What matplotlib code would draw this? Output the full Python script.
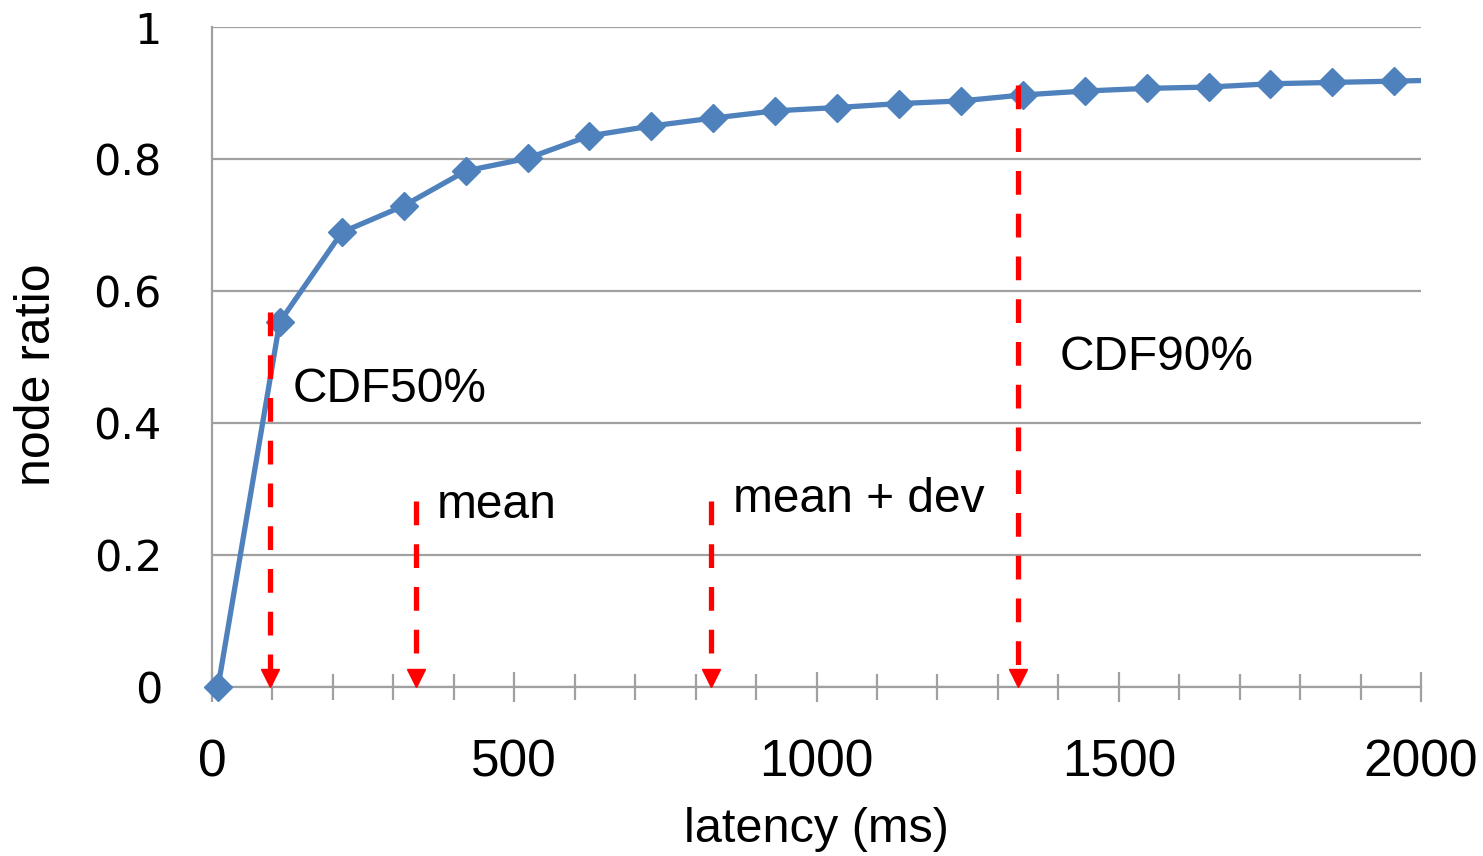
import numpy as np
import matplotlib
matplotlib.use("Agg")
import matplotlib.pyplot as plt
from matplotlib.ticker import MultipleLocator

# CDF of latency
latency = [10, 112, 215, 317, 420, 522, 624, 727, 829, 932, 1034, 1137,
           1239, 1341, 1444, 1546, 1649, 1751, 1853, 1956, 2058]
node_ratio = [0.0, 0.553, 0.689, 0.729, 0.782, 0.801, 0.835, 0.850, 0.862,
              0.873, 0.878, 0.884, 0.888, 0.897, 0.903, 0.907, 0.909, 0.914,
              0.916, 0.918, 0.920]

# red dashed markers: x position, top of the dashed line, label
mark_x = [96, 337, 825, 1333]
mark_top = [0.568, 0.282, 0.282, 0.912]
mark_labels = ["CDF50%", "mean", "mean + dev", "CDF90%"]
label_x = [134, 372, 862, 1403]
label_y = [0.432, 0.256, 0.265, 0.480]

W, H = 1483, 856
fig = plt.figure(figsize=(W / 100, H / 100), dpi=100)
ax = fig.add_axes([212 / W, (H - 687) / H, 1209 / W, 660 / H])

grid_c = "#a0a0a0"
ax.set_xlim(0, 2000)
ax.set_ylim(0, 1)
ax.set_yticks(np.arange(0, 1.01, 0.2))
ax.set_yticklabels(["0", "0.2", "0.4", "0.6", "0.8", "1"])
ax.xaxis.set_major_locator(MultipleLocator(500))
ax.xaxis.set_minor_locator(MultipleLocator(100))
ax.yaxis.grid(True, color=grid_c, lw=1.6)
ax.set_axisbelow(True)
for s in ["top", "right"]:
    ax.spines[s].set_visible(False)
for s in ["left", "bottom"]:
    ax.spines[s].set_color(grid_c)
    ax.spines[s].set_linewidth(1.6)

ax.tick_params(axis="x", which="both", direction="inout", color=grid_c, width=1.6)
ax.tick_params(axis="x", which="major", length=22, pad=26)
ax.tick_params(axis="x", which="minor", length=19)
ax.tick_params(axis="y", length=0, pad=36)

for lab in ax.get_xticklabels():
    lab.set_fontfamily("Liberation Sans")
    lab.set_fontsize(37)
for lab in ax.get_yticklabels():
    lab.set_fontfamily("DejaVu Sans")
    lab.set_fontsize(31)

blue = "#4f81bd"
ax.plot(latency, node_ratio, color=blue, lw=3.8, zorder=3)
# markers inside the x range are drawn unclipped so the one at 0 shows whole
in_x = [x for x in latency if x <= 2000]
in_y = [y for x, y in zip(latency, node_ratio) if x <= 2000]
ax.plot(in_x, in_y, ls="none", color=blue, marker="D", ms=14, zorder=3,
        clip_on=False)

for x, top in zip(mark_x, mark_top):
    # draw from the top down so the dash pattern starts at the top
    ax.plot([x, x], [top, 0.026], color="red", lw=3.8,
            ls=(0, (4.5, 3.6)), zorder=4)
    ax.plot(x, 0.014, marker="v", color="red", ms=13, zorder=4, clip_on=False)

for t, x, y in zip(mark_labels, label_x, label_y):
    ax.text(x, y, t, fontsize=34.5, family="Liberation Sans", va="baseline")

ax.set_xlabel("latency (ms)", fontsize=35, family="Liberation Sans")
ax.xaxis.set_label_coords(0.4996, -0.182)
ax.set_ylabel("node ratio", fontsize=36, family="Liberation Sans")
ax.yaxis.set_label_coords(-0.126, 0.473)

fig.savefig("out.png", dpi=100)
